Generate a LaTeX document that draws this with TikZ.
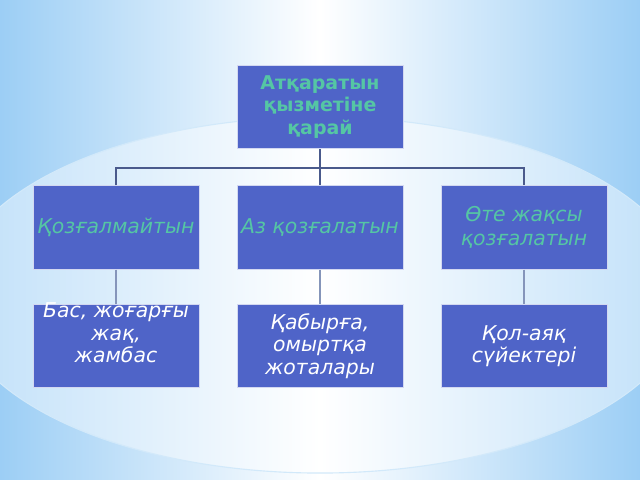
\documentclass[tikz,border=0pt]{standalone}
\usepackage{fontspec}
\setmainfont{DejaVu Sans}
\definecolor{boxblue}{HTML}{4F64C8}
\definecolor{mint}{HTML}{55C6A4}
\definecolor{skyblue}{HTML}{9CCEF5}
\definecolor{linkdark}{HTML}{4A5A8C}
\definecolor{linklight}{HTML}{8595BA}
\begin{document}
\begin{tikzpicture}[x=0.025cm,y=-0.025cm,
	box/.style={draw=white!75!boxblue, line width=0.6pt, fill=boxblue, minimum width=4.15cm, minimum height=2.08cm, inner sep=0pt},
	head/.style={text=mint, font=\bfseries\fontsize{13.5}{15.8}\selectfont, align=center},
	kind/.style={text=mint, font=\itshape\fontsize{14.5}{17.5}\selectfont, align=center},
	part/.style={text=white, font=\itshape\fontsize{14.5}{16}\selectfont, align=center},
	link/.style={draw=linkdark, line width=0.8pt},
	linkl/.style={draw=linklight, line width=0.8pt}]
			\fill[left color=skyblue, right color=skyblue, middle color=white] (0,0) rectangle (640,480);
			\begin{scope}
				\clip (0,0) rectangle (640,480);
				\fill[white, opacity=0.12] (0,263) rectangle (640,357);
				\shade[left color=skyblue!65!white, right color=skyblue!65!white, middle color=white] (320,295) ellipse [x radius=9.2cm, y radius=4.45cm];
				\draw[white!55!skyblue, line width=0.8pt] (320,295) ellipse [x radius=9.2cm, y radius=4.45cm];
			\end{scope}

			\node[box, head] at (320,107) (top) {Атқаратын\\қызметіне\\қарай};

			\node[box, kind] at (116,227.5) (kozgal) {Қозғалмайтын};
			\node[box, kind] at (320,227.5) (az) {Аз қозғалатын};
			\node[box, kind] at (524,227.5) (ote) {Өте жақсы \\қозғалатын};

			\node[box] at (116,346) (bas) {};
			\node[part] at (116,333) (bastext) {Бас, жоғарғы\\жақ,\\жамбас};
			\node[box, part] at (320,346) (qabyrga) {Қабырға,\\омыртқа \\жоталары};
			\node[box, part] at (524,346) (qolayaq) {Қол-аяқ\\сүйектері};

			\coordinate (bus) at (320,168);
			\draw[link] (top.south) -- (az.north);
			\draw[link] (kozgal.north) |- (bus) -| (ote.north);
			\draw[linkl] (kozgal.south) -- (bas.north);
			\draw[linkl] (az.south) -- (qabyrga.north);
			\draw[linkl] (ote.south) -- (qolayaq.north);
		\end{tikzpicture}
\end{document}
